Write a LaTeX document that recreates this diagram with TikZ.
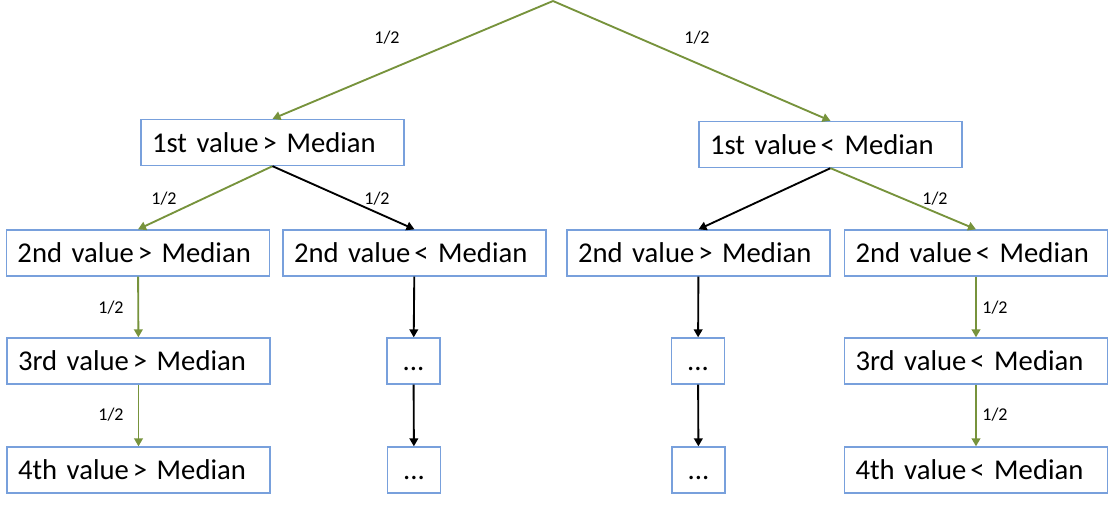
\documentclass[tikz,border=0pt]{standalone}
\usepackage{fontspec}
\setmainfont{Carlito}
\usetikzlibrary{arrows.meta}
\definecolor{tgreen}{RGB}{119,147,60}
\definecolor{tblue}{RGB}{120,160,220}
\newcommand{\gtsym}{\kern3pt> }
\newcommand{\ltsym}{\kern3pt< }
\newcommand{\mydots}{\vphantom{M}...}
\begin{document}
\begin{tikzpicture}[x=0.75pt,y=-0.75pt,
  box/.style={draw=tblue, line width=1pt, minimum height=34.5pt, inner xsep=8.25pt, inner ysep=0pt,
    text width=180.75pt, align=left, font=\fontsize{21.5}{24}\selectfont},
  dots/.style={draw=tblue, line width=1pt, minimum height=34.5pt, minimum width=39.75pt, inner sep=0pt,
    font=\fontsize{21.5}{24}\selectfont},
  garrow/.style={draw=tgreen, line width=1.4pt, -{Triangle[length=6pt,width=6.5pt]}},
  barrow/.style={draw=black, line width=1.4pt, -{Triangle[length=6pt,width=6.5pt]}},
  prob/.style={font=\fontsize{13.5}{15}\selectfont, inner sep=0pt}]
\useasboundingbox (0,0) rectangle (1108,504);
\coordinate (top) at (553,1);
\node[box] (A) at (272.5,142.5) {1st value\gtsym Median};
\node[box] (B) at (830.5,144.5) {1st value\ltsym Median};
\node[box] (C1) at (138,253) {2nd value\gtsym Median};
\node[box] (C2) at (414.5,253) {2nd value\ltsym Median};
\node[box] (C3) at (698.5,253) {2nd value\gtsym Median};
\node[box] (C4) at (976,253) {2nd value\ltsym Median};
\node[box] (D1) at (138.5,361) {3rd value\gtsym Median};
\node[dots] (D2) at (413.5,361) {\mydots};
\node[dots] (D3) at (698,361) {\mydots};
\node[box] (D4) at (976,361) {3rd value\ltsym Median};
\node[box] (E1) at (138.5,470) {4th value\gtsym Median};
\node[dots] (E2) at (414,470) {\mydots};
\node[dots] (E3) at (698.5,470) {\mydots};
\node[box] (E4) at (976,470) {4th value\ltsym Median};
\draw[garrow] (top) -- (A.north);
\draw[garrow] (top) -- (B.north);
\draw[garrow] (A.south) -- (C1.north);
\draw[barrow] (A.south) -- (C2.north);
\draw[barrow] (B.south) -- (C3.north);
\draw[garrow] (B.south) -- (C4.north);
\draw[garrow] (C1) -- (D1);
\draw[garrow] (D1) -- (E1);
\draw[barrow] (C2) -- (D2);
\draw[barrow] (D2) -- (E2);
\draw[barrow] (C3) -- (D3);
\draw[barrow] (D3) -- (E3);
\draw[garrow] (C4) -- (D4);
\draw[garrow] (D4) -- (E4);
\node[prob] (p1) at (387,38) {1/2};
\node[prob] (p2) at (697,38) {1/2};
\node[prob] (p3) at (164,199) {1/2};
\node[prob] (p4) at (377,199) {1/2};
\node[prob] (p5) at (935,199) {1/2};
\node[prob] (p6) at (111,308) {1/2};
\node[prob] (p7) at (111,415) {1/2};
\node[prob] (p8) at (995,308) {1/2};
\node[prob] (p9) at (995,415) {1/2};
\end{tikzpicture}
\end{document}
